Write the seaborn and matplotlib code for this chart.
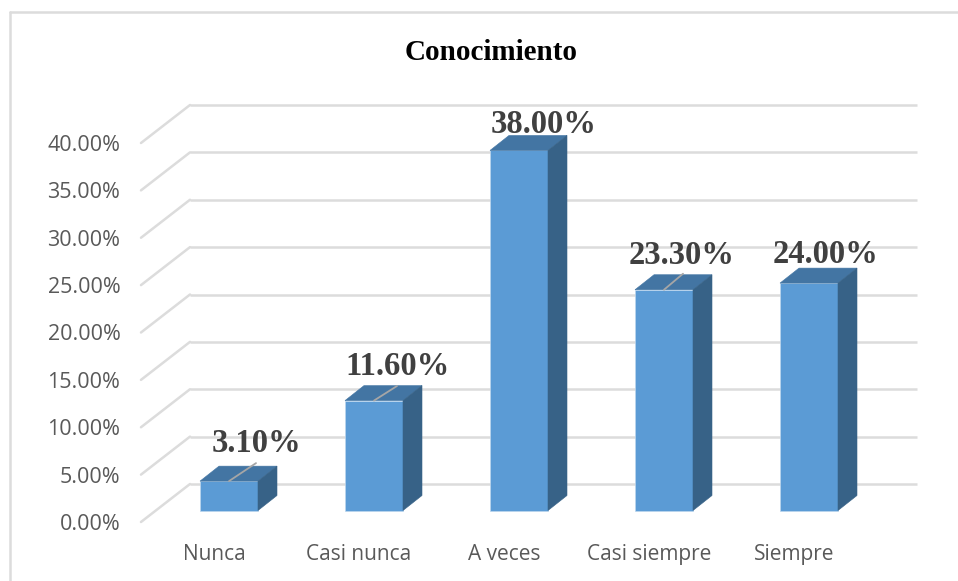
import numpy as np
import pandas as pd
import seaborn as sns
import matplotlib.pyplot as plt
from matplotlib.lines import Line2D
from matplotlib.patches import Polygon
from matplotlib.transforms import Affine2D

categorias = ["Nunca", "Casi nunca", "A veces", "Casi siempre", "Siempre"]
valores = [3.1, 11.6, 38.0, 23.3, 24.0]
etiquetas = ["3.10%", "11.60%", "38.00%", "23.30%", "24.00%"]
ticks = [0, 5, 10, 15, 20, 25, 30, 35, 40]

# label offset from front top centre of each bar, in pixels
label_dx = [27, 24, 25, 18, 16]
label_dy = [38, 34, 26, 34, 29]
# leader lines (only some bars have one)
leader_dx = [27, 23, None, 19, None]
leader_dy = [18, 14.6, None, 16, None]

W, H = 958, 581
sns.set_theme(style="white")
plt.rcParams['font.family'] = ['Open Sans', 'DejaVu Sans']

fig = plt.figure(figsize=(W / 100, H / 100), dpi=100)
ax = fig.add_axes([156.5 / W, (H - 510.5) / H, 725 / W, 379 / H])
ax.patch.set_alpha(0)

df = pd.DataFrame({"cat": categorias, "val": valores})
sns.barplot(data=df, x="cat", y="val", color="#5B9BD5", saturation=1, width=0.4,
            edgecolor="#BDD7EE", linewidth=0.5, ax=ax, zorder=3)
ax.set_ylim(0, 40)
ax.set_xlim(-0.5, 4.5)
ax.set_autoscale_on(False)
ax.set_xlabel("")
ax.set_ylabel("")
sns.despine(ax=ax, left=True, bottom=True)

# px -> data sizes
px_x = 1 / 145
px_y = 40 / 379
depth_x, depth_y = 19 * px_x, 15 * px_y

# walls
back_x0, back_x1 = -0.269, 4.745
back_y = 26.5 * px_y
front_x = -0.607
front_y = -11.5 * px_y
grid_c = "#DCDCDC"
for t in ticks:
    ax.plot([back_x0, back_x1], [t + back_y, t + back_y], color=grid_c, lw=1.8,
            clip_on=False, zorder=1, solid_capstyle="butt")
    ax.plot([front_x, back_x0], [t + front_y, t + back_y], color=grid_c, lw=1.8,
            clip_on=False, zorder=1)

# depth faces of bars
for i, bar in enumerate(ax.patches):
    x0 = bar.get_x()
    x1 = x0 + bar.get_width()
    v = bar.get_height()
    top = [(x0, v), (x1, v), (x1 + depth_x, v + depth_y), (x0 + depth_x, v + depth_y)]
    side = [(x1, 0), (x1 + depth_x, depth_y), (x1 + depth_x, v + depth_y), (x1, v)]
    ax.add_patch(Polygon(top, closed=True, fc="#4375A3", ec="#4375A3", lw=0.4,
                         clip_on=False, zorder=3))
    ax.add_patch(Polygon(side, closed=True, fc="#376287", ec="#376287", lw=0.4,
                         clip_on=False, zorder=3))
    bar.set_clip_on(False)
    if leader_dx[i] is not None:
        ax.plot([i, i + leader_dx[i] * px_x], [v, v + leader_dy[i] * px_y],
                color="#A6A6A6", lw=1.3, clip_on=False, zorder=4)
    ax.annotate(etiquetas[i], (i, v), xytext=(label_dx[i], label_dy[i]),
                textcoords="offset pixels", ha="center", va="center",
                family="Liberation Serif", fontweight="bold", fontsize=23.5,
                color="#404040", zorder=5, annotation_clip=False)

# axis labels
ax.set_yticks(ticks)
ax.set_yticklabels(["%.2f%%" % t for t in ticks])
ax.tick_params(axis="y", length=0, pad=26, labelsize=15.5, labelcolor="#595959")
ax.tick_params(axis="x", length=0, pad=24, labelsize=15, labelcolor="#595959")
for lab in ax.get_yticklabels():
    lab.set_transform(lab.get_transform() + Affine2D().translate(0, -11.5))
for lab in ax.get_xticklabels():
    lab.set_transform(lab.get_transform() + Affine2D().translate(-15, 0))

fig.text(491 / W, 1 - 53 / H, "Conocimiento", ha="center", va="center",
         family="Liberation Serif", fontweight="bold", fontsize=21, color="black")

# chart frame
fig.add_artist(Line2D([10 / W, 10 / W], [0, 1 - 12 / H], color=grid_c, lw=1.8))
fig.add_artist(Line2D([10 / W, 1], [1 - 12 / H, 1 - 12 / H], color=grid_c, lw=1.8))

fig.savefig("out.png", dpi=100)
